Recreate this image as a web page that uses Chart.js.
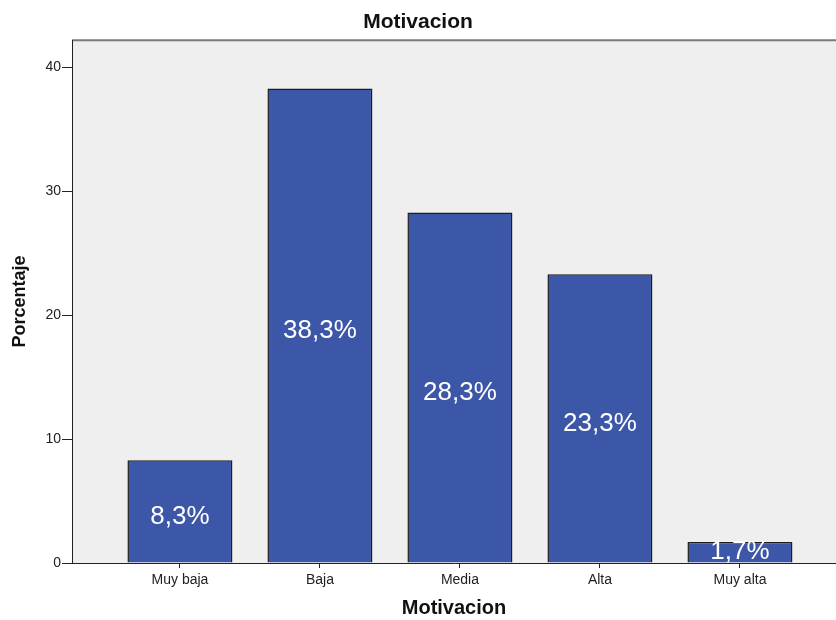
<!DOCTYPE html>
<html>
<head>
<meta charset="utf-8">
<script src="https://cdn.jsdelivr.net/npm/chart.js@4/dist/chart.umd.min.js"></script>
<style>
  html, body { margin: 0; padding: 0; background: #ffffff; }
  #wrap { width: 836px; height: 620px; }
</style>
</head>
<body>
<div id="wrap"><canvas id="motivacionChart" width="836" height="620"></canvas></div>
<script>
// Motivacion categories and their share (%)
const categorias = ["Muy baja", "Baja", "Media", "Alta", "Muy alta"];
const porcentajes = [8.3, 38.3, 28.3, 23.3, 1.7];
const yTicks = [0, 10, 20, 30, 40];

const FONT = "'Liberation Sans', Arial, sans-serif";

// grey plot panel with a border line along the top
const plotPanel = {
    id: "plotPanel",
    beforeDraw(chart) {
        const { ctx, chartArea: a } = chart;
        ctx.save();
        ctx.fillStyle = "#efefef";
        ctx.fillRect(a.left, a.top, a.right - a.left, a.bottom - a.top);
        ctx.strokeStyle = "#7a7a7a";
        ctx.lineWidth = 2;
        ctx.beginPath();
        ctx.moveTo(a.left, a.top);
        ctx.lineTo(a.right, a.top);
        ctx.stroke();
        ctx.restore();
    }
};

// percentage text in the middle of every bar
const barLabels = {
    id: "barLabels",
    afterDatasetsDraw(chart) {
        const { ctx } = chart;
        const meta = chart.getDatasetMeta(0);
        ctx.save();
        ctx.fillStyle = "#ffffff";
        ctx.font = "26px " + FONT;
        ctx.textAlign = "center";
        ctx.textBaseline = "middle";
        meta.data.forEach((bar, i) => {
            const txt = porcentajes[i].toFixed(1).replace(".", ",") + "%";
            const y = Math.min((bar.y + bar.base) / 2 + 5, bar.base - 11);
            ctx.fillText(txt, bar.x, y);
        });
        ctx.restore();
    }
};

const ctx = document.getElementById("motivacionChart").getContext("2d");
const chart = new Chart(ctx, {
    type: "bar",
    data: {
        datasets: [{
            data: porcentajes.map((v, i) => ({ x: i, y: v })),
            backgroundColor: "#3c56a8",
            borderColor: "#1e1e1e",
            borderWidth: 1.5,
            barPercentage: 0.75,
            categoryPercentage: 1
        }]
    },
    options: {
        responsive: false,
        animation: false,
        layout: { padding: 0 },
        plugins: {
            legend: { display: false },
            tooltip: { enabled: false },
            title: {
                display: true,
                text: "Motivacion",
                color: "#111111",
                font: { family: FONT, size: 21, weight: "bold" },
                padding: { top: 10, bottom: 5 }
            }
        },
        scales: {
            x: {
                type: "linear",
                offset: false,
                min: -0.771,
                max: 4.686,
                afterBuildTicks: s => { s.ticks = categorias.map((c, i) => ({ value: i })); },
                afterFit: s => { s.height = 57; },
                ticks: {
                    callback: v => categorias[v],
                    color: "#222222",
                    font: { family: FONT, size: 14 },
                    padding: 4,
                    maxRotation: 0,
                    autoSkip: false
                },
                grid: { display: true, offset: false, drawOnChartArea: false, drawTicks: true, tickLength: 5, color: "#222222" },
                border: { display: true, color: "#222222", width: 1 },
                title: {
                    display: true,
                    text: "Motivacion",
                    color: "#111111",
                    font: { family: FONT, size: 20, weight: "bold" },
                    padding: { top: 0, bottom: 0 }
                }
            },
            y: {
                min: 0,
                max: 42.2,
                afterBuildTicks: s => { s.ticks = yTicks.map(v => ({ value: v })); },
                afterFit: s => { s.width = 72; },
                ticks: {
                    color: "#222222",
                    font: { family: FONT, size: 14 },
                    padding: 1
                },
                grid: { display: true, drawOnChartArea: false, drawTicks: true, tickLength: 10, color: "#222222" },
                border: { display: true, color: "#222222", width: 1 },
                title: {
                    display: true,
                    text: "Porcentaje",
                    color: "#111111",
                    font: { family: FONT, size: 18, weight: "bold" },
                    padding: { top: 9, bottom: 0 }
                }
            }
        }
    },
    plugins: [plotPanel, barLabels]
});
</script>
</body>
</html>
